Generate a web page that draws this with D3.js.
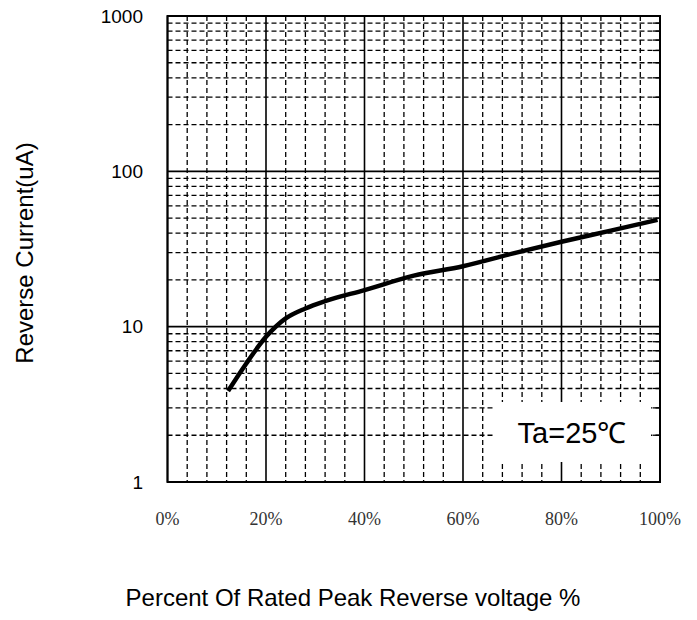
<!DOCTYPE html>
<html lang="en">

<head>
    <meta charset="UTF-8">
    <title>Reverse Current</title>
    <style>
        body { margin: 0; background: #fff; }
    </style>
</head>

<body>
    <script src='https://d3js.org/d3.v7.min.js'></script>
    <script>
        // curve
        const percent = [12.3, 16, 20, 24, 28, 32, 40, 50, 60, 70, 80, 90, 99.5]
        const current = [3.85, 5.8, 8.6, 11.3, 13.1, 14.6, 17.2, 21.3, 24.5, 29.5, 35.2, 41.5, 48.7]
        const xTicks = [0, 20, 40, 60, 80, 100]
        const yTicks = [1, 10, 100, 1000]
        const label = "Ta=25\u2103"

        const width = 697, height = 620;
        const marginLeft = 167.5, marginTop = 16, plotW = 492.5, plotH = 466;

        var svg = d3.select("body")
            .append("svg")
            .attr("width", width)
            .attr("height", height);

        var x = d3.scaleLinear().domain([0, 100]).range([marginLeft, marginLeft + plotW]);
        var y = d3.scaleLog().domain([1, 1000]).range([marginTop + plotH, marginTop]);

        // minor grid values
        var minorX = d3.range(0, 101, 4).filter(function(d) { return d % 20 != 0; });
        var minorY = [];
        yTicks.slice(0, -1).forEach(function(d) {
            for (var k = 2; k <= 9; k++) minorY.push(d * k);
        });

        var grid = svg.append("g");
        grid.selectAll(".vx")
            .data(minorX)
            .enter()
            .append("line")
            .attr("x1", function(d) { return x(d); })
            .attr("x2", function(d) { return x(d); })
            .attr("y1", marginTop)
            .attr("y2", marginTop + plotH)
            .attr("stroke", "#000")
            .attr("stroke-width", 1.3)
            .attr("stroke-dasharray", "5,3");
        grid.selectAll(".hy")
            .data(minorY)
            .enter()
            .append("line")
            .attr("x1", marginLeft)
            .attr("x2", marginLeft + plotW)
            .attr("y1", function(d) { return y(d); })
            .attr("y2", function(d) { return y(d); })
            .attr("stroke", "#000")
            .attr("stroke-width", 1.3)
            .attr("stroke-dasharray", "5,3");
        grid.selectAll(".vm")
            .data(xTicks)
            .enter()
            .append("line")
            .attr("x1", function(d) { return x(d); })
            .attr("x2", function(d) { return x(d); })
            .attr("y1", marginTop)
            .attr("y2", marginTop + plotH)
            .attr("stroke", "#000")
            .attr("stroke-width", 1.6);
        grid.selectAll(".hm")
            .data(yTicks)
            .enter()
            .append("line")
            .attr("x1", marginLeft)
            .attr("x2", marginLeft + plotW)
            .attr("y1", function(d) { return y(d); })
            .attr("y2", function(d) { return y(d); })
            .attr("stroke", "#000")
            .attr("stroke-width", 1.6);

        // white label box covering the grid
        svg.append("rect")
            .attr("x", 493)
            .attr("y", 402)
            .attr("width", 158)
            .attr("height", 60)
            .attr("fill", "#fff");
        svg.selectAll(".rt")
            .data(minorY)
            .enter()
            .append("line")
            .attr("x1", marginLeft + plotW - 7)
            .attr("x2", marginLeft + plotW)
            .attr("y1", function(d) { return y(d); })
            .attr("y2", function(d) { return y(d); })
            .attr("stroke", "#000")
            .attr("stroke-width", 1.3);
        svg.append("text")
            .attr("x", 572)
            .attr("y", 443)
            .attr("text-anchor", "middle")
            .style("font-family", "Liberation Sans, Arial, sans-serif")
            .style("font-size", "29px")
            .text(label);

        // frame
        svg.append("rect")
            .attr("x", marginLeft)
            .attr("y", marginTop)
            .attr("width", plotW)
            .attr("height", plotH)
            .attr("fill", "none")
            .attr("stroke", "#000")
            .attr("stroke-width", 2);

        // curve
        var line = d3.line()
            .x(function(d, i) { return x(percent[i]); })
            .y(function(d) { return y(d); })
            .curve(d3.curveMonotoneX);
        svg.append("path")
            .datum(current)
            .attr("d", line)
            .attr("fill", "none")
            .attr("stroke", "#000")
            .attr("stroke-width", 4.5);

        // tick labels
        svg.selectAll(".yl")
            .data(yTicks)
            .enter()
            .append("text")
            .attr("x", 143)
            .attr("y", function(d) { return y(d); })
            .attr("dy", ".35em")
            .attr("text-anchor", "end")
            .style("font-family", "Liberation Sans, Arial, sans-serif")
            .style("font-size", "19px")
            .text(function(d) { return d; });
        svg.selectAll(".xl")
            .data(xTicks)
            .enter()
            .append("text")
            .attr("x", function(d) { return x(d); })
            .attr("y", 525)
            .attr("text-anchor", "middle")
            .attr("fill", "#333")
            .style("font-family", "Liberation Serif, Times New Roman, serif")
            .style("font-size", "18px")
            .text(function(d) { return d + "%"; });

        // axis titles
        svg.append("text")
            .attr("transform", "translate(33,253) rotate(-90)")
            .attr("text-anchor", "middle")
            .style("font-family", "Liberation Sans, Arial, sans-serif")
            .style("font-size", "24px")
            .text("Reverse Current(uA)");
        svg.append("text")
            .attr("x", 353)
            .attr("y", 606)
            .attr("text-anchor", "middle")
            .style("font-family", "Liberation Sans, Arial, sans-serif")
            .style("font-size", "24px")
            .text("Percent Of Rated Peak Reverse voltage %");
    </script>
</body>

</html>
